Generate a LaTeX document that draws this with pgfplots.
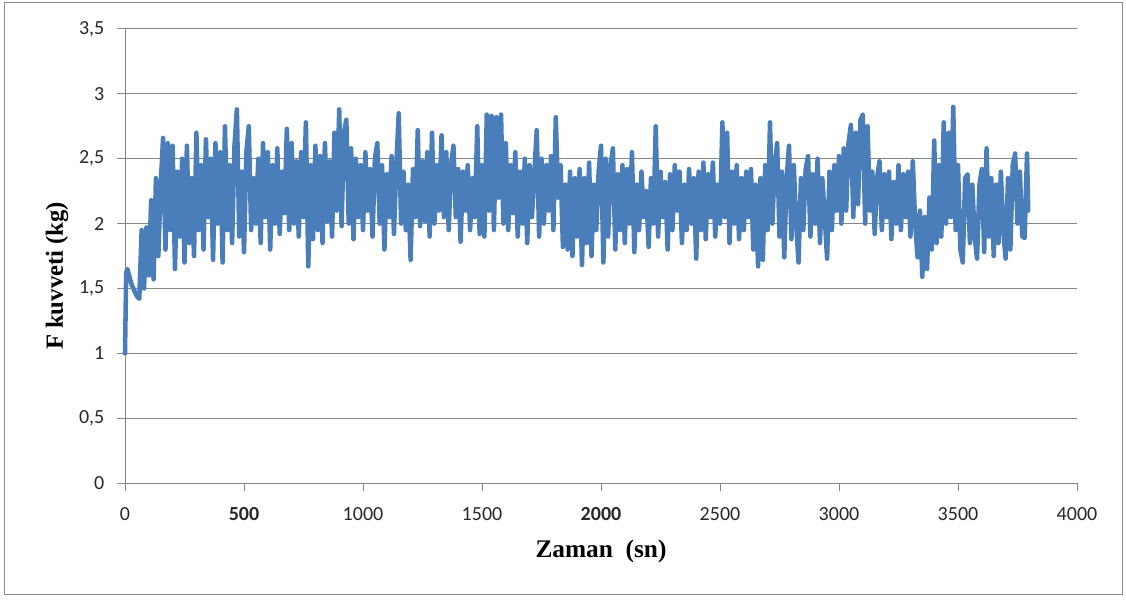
\documentclass[border=0pt]{standalone}
\usepackage{fontspec}
\setmainfont{Liberation Serif}
\newfontfamily\tickfont{Carlito}
\usepackage{pgfplots}
\usepackage{pgfplotstable}
\pgfplotsset{compat=1.18}
\definecolor{linecol}{RGB}{74,126,187}
\definecolor{gridcol}{RGB}{134,134,134}
\definecolor{framecol}{RGB}{140,140,140}
\definecolor{tickcol}{RGB}{40,40,40}

\pgfplotstableread{
x y
0 1.00
5 1.62
10 1.65
20 1.58
30 1.52
40 1.48
50 1.44
60 1.42
70 1.95
80 1.50
90 1.97
100 1.60
110 2.18
120 1.57
130 2.35
140 1.75
150 2.30
160 2.66
170 1.80
180 2.62
190 1.95
200 2.60
210 1.65
220 2.40
230 1.90
240 2.50
250 1.70
260 2.60
270 1.85
280 2.35
290 1.75
300 2.70
310 1.95
320 2.45
330 1.80
340 2.65
350 2.05
360 2.50
370 1.72
380 2.62
390 2.00
400 2.55
410 1.70
420 2.75
430 1.95
440 2.45
450 1.85
460 2.60
470 2.88
480 1.90
490 2.40
500 1.78
510 2.55
520 2.75
530 1.95
540 2.35
550 2.00
560 2.50
570 1.85
580 2.62
590 2.05
600 2.55
610 1.80
620 2.45
630 2.00
640 2.58
650 1.92
660 2.40
670 2.08
680 2.73
690 1.95
700 2.62
710 2.00
720 2.48
730 1.90
740 2.55
750 2.05
760 2.78
770 1.67
780 2.45
790 1.88
800 2.60
810 1.95
820 2.52
830 1.85
840 2.62
850 2.02
860 2.48
870 1.90
880 2.70
890 2.10
900 2.88
910 1.98
920 2.70
930 2.80
940 2.00
950 2.58
960 1.88
970 2.50
980 2.05
990 2.45
1000 1.95
1010 2.55
1020 2.10
1030 2.42
1040 1.90
1050 2.50
1060 2.62
1070 2.00
1080 2.45
1090 1.80
1100 2.38
1110 2.05
1120 2.52
1130 1.92
1140 2.45
1150 2.85
1160 2.00
1170 2.40
1180 1.95
1190 2.30
1200 1.72
1210 2.42
1220 2.05
1230 2.72
1240 1.98
1250 2.48
1260 2.02
1270 2.55
1280 1.90
1290 2.70
1300 2.00
1310 2.45
1320 2.10
1330 2.68
1340 2.05
1350 2.55
1360 1.95
1370 2.45
1380 2.60
1390 2.05
1400 2.42
1410 1.86
1420 2.40
1430 2.10
1440 2.45
1450 1.95
1460 2.35
1470 2.05
1480 2.75
1490 1.92
1500 2.45
1510 1.90
1520 2.84
1530 2.10
1540 2.83
1550 1.95
1560 2.82
1570 2.20
1580 2.84
1590 2.00
1600 2.62
1610 1.95
1620 2.45
1630 2.08
1640 2.55
1650 1.90
1660 2.40
1670 2.00
1680 2.50
1690 1.85
1700 2.45
1710 2.05
1720 2.40
1730 2.72
1740 1.90
1750 2.50
1760 2.00
1770 2.45
1780 2.10
1790 2.52
1800 1.95
1810 2.82
1820 2.20
1830 2.45
1840 1.82
1850 2.30
1860 1.80
1870 2.40
1880 1.75
1890 2.35
1900 1.90
1910 2.42
1920 1.68
1930 2.35
1940 1.85
1950 2.47
1960 1.75
1970 2.30
1980 1.95
1990 2.40
2000 2.60
2010 1.70
2020 2.50
2030 1.90
2040 2.45
2050 2.58
2060 1.80
2070 2.38
2080 1.95
2090 2.45
2100 1.85
2110 2.42
2120 2.00
2130 2.55
2140 1.78
2150 2.30
2160 1.95
2170 2.40
2180 2.05
2190 2.25
2200 1.82
2210 2.35
2220 2.00
2230 2.75
2240 1.90
2250 2.40
2260 2.05
2270 2.32
2280 1.80
2290 2.38
2300 1.95
2310 2.45
2320 2.10
2330 2.40
2340 1.85
2350 2.30
2360 1.95
2370 2.42
2380 2.00
2390 2.35
2400 1.73
2410 2.40
2420 1.95
2430 2.47
2440 1.88
2450 2.38
2460 2.05
2470 2.47
2480 1.90
2490 2.30
2500 2.00
2510 2.78
2520 2.05
2530 2.70
2540 1.85
2550 2.40
2560 2.00
2570 2.45
2580 1.88
2590 2.35
2600 1.95
2610 2.40
2620 2.05
2630 2.42
2640 1.80
2650 2.30
2660 1.67
2670 2.35
2680 1.72
2690 2.45
2700 1.95
2710 2.78
2720 2.00
2730 2.45
2740 2.62
2750 1.90
2760 2.40
2770 1.74
2780 2.35
2790 2.60
2800 1.88
2810 2.45
2820 2.00
2830 1.70
2840 2.35
2850 1.95
2860 2.42
2870 2.52
2880 1.90
2890 2.38
2900 2.00
2910 2.50
2920 1.85
2930 2.35
2940 2.05
2950 1.73
2960 2.40
2970 1.95
2980 2.45
2990 2.10
3000 2.52
3010 2.00
3020 2.58
3030 2.10
3040 2.62
3050 2.76
3060 2.05
3070 2.70
3080 2.15
3090 2.80
3100 2.84
3110 2.00
3120 2.75
3130 2.10
3140 2.40
3150 1.92
3160 2.35
3170 2.48
3180 1.95
3190 2.38
3200 2.05
3210 2.40
3220 1.88
3230 2.32
3240 2.00
3250 2.45
3260 1.95
3270 2.38
3280 2.05
3290 2.40
3300 1.90
3310 2.48
3320 2.00
3330 1.74
3340 2.10
3350 1.59
3360 2.05
3370 1.65
3380 2.20
3390 1.80
3400 2.64
3410 1.85
3420 2.45
3430 1.90
3440 2.78
3450 2.00
3460 2.70
3470 2.05
3480 2.90
3490 1.95
3500 2.45
3510 1.80
3520 1.70
3530 2.35
3540 2.38
3550 1.85
3560 2.30
3570 1.90
3580 1.73
3590 2.30
3600 2.42
3610 1.78
3620 2.58
3630 1.90
3640 2.35
3650 1.75
3660 2.30
3670 1.85
3680 2.40
3690 1.95
3700 1.73
3710 2.35
3720 1.80
3730 2.45
3740 2.54
3750 2.00
3760 2.40
3770 1.90
3780 1.89
3790 2.54
3795 2.10
}\forcedata

\begin{document}
\begin{tikzpicture}[x=1pt,y=1pt]
\path[use as bounding box] (0,0) rectangle (844.5,449.25);
\draw[framecol, line width=0.75pt] (3,3.75) rectangle (841.5,447);
\begin{axis}[
  at={(93.75pt,87pt)}, anchor=south west,
  scale only axis, width=714pt, height=340.5pt,
  xmin=0, xmax=4000, ymin=0, ymax=3.5,
  clip=false,
  xtick={0,500,1000,1500,2000,2500,3000,3500,4000},
  xticklabels={0,\textbf{500},1000,1500,\textbf{2000},2500,3000,3500,4000},
  ytick={0,0.5,1,1.5,2,2.5,3,3.5},
  axis x line*=bottom, axis y line*=left,
  axis line style={gridcol, line width=0.75pt},
  ymajorgrids, grid style={gridcol, line width=0.75pt},
  tick style={gridcol, line width=0.75pt},
  tick align=outside, major tick length=6pt,
  /pgf/number format/.cd, use comma, 1000 sep={}, assume math mode=true,
  /pgfplots/.cd,
  yticklabel style={font=\tickfont\fontsize{15}{17}\selectfont, text=tickcol, xshift=-6pt},
  xticklabel style={font=\tickfont\fontsize{15}{17}\selectfont, text=tickcol, yshift=-9pt},
  xlabel={\textbf{Zaman\ \ (sn)}},
  ylabel={\textbf{F kuvveti (kg)}},
  xlabel style={font=\fontsize{19}{22}\selectfont, at={(axis description cs:0.5,-0.1498)}, anchor=center},
  ylabel style={font=\fontsize{18.5}{22}\selectfont, at={(axis description cs:-0.0714,0.456)}, anchor=center},
]
\addplot[linecol, line width=3.4pt, line join=round, line cap=round, no markers] table[x=x,y=y] {\forcedata};
\end{axis}
\end{tikzpicture}
\end{document}
